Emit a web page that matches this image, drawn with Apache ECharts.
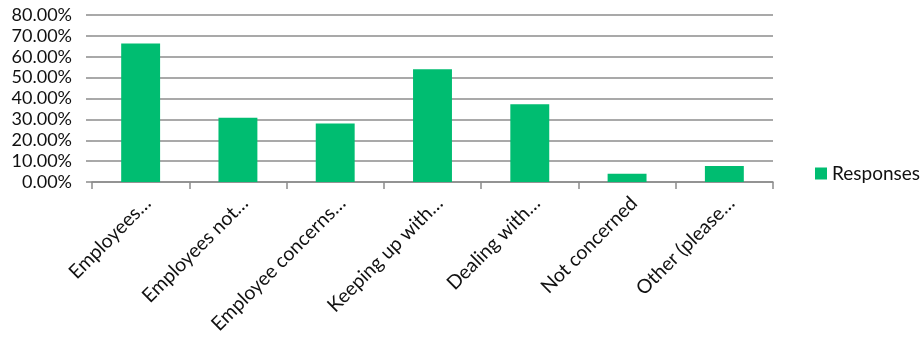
<!DOCTYPE html>
<html>
<head>
<meta charset="utf-8">
<script src="https://cdn.jsdelivr.net/npm/echarts@6/dist/echarts.min.js"></script>
<style>
  html, body { margin: 0; padding: 0; background: #fff; }
  #chart { width: 924px; height: 341px; }
</style>
</head>
<body>
<div id="chart"></div>
<script>
// Survey answer categories (shortened as shown on the axis)
const categories = [
  'Employees…',
  'Employees not…',
  'Employee concerns…',
  'Keeping up with…',
  'Dealing with…',
  'Not concerned',
  'Other (please…'
];
// Share of responses per answer, in percent
const responses = [66.3, 30.8, 28.0, 54.0, 37.2, 4.0, 7.7];
const seriesName = 'Responses';

const FONT = 'Lato';
const chart = echarts.init(document.getElementById('chart'));
chart.setOption({
  animation: false,
  textStyle: { fontFamily: FONT },
  grid: { left: 92, right: 151, top: 15, bottom: 159, containLabel: false },
  legend: {
    orient: 'vertical',
    left: 810,
    top: 159,
    itemWidth: 12,
    itemHeight: 12,
    itemGap: 6,
    icon: 'rect',
    textStyle: { fontFamily: FONT, fontSize: 19, color: '#111' },
    data: [seriesName]
  },
  xAxis: {
    type: 'category',
    data: categories,
    boundaryGap: true,
    axisLine: { lineStyle: { color: '#8c8c8c', width: 1.5 } },
    axisTick: { show: true, length: 7, alignWithLabel: false, lineStyle: { color: '#8c8c8c', width: 1.5 } },
    axisLabel: {
      rotate: 45,
      interval: 0,
      margin: 11,
      verticalAlign: 'top',
      fontFamily: FONT,
      fontSize: 19.5,
      color: '#111'
    }
  },
  yAxis: {
    type: 'value',
    min: 0,
    max: 80,
    interval: 10,
    axisLine: { show: false },
    axisTick: { show: true, length: 6, lineStyle: { color: '#8c8c8c', width: 1.5 } },
    splitLine: { show: true, lineStyle: { color: '#8c8c8c', width: 1.5 } },
    axisLabel: {
      margin: 20,
      fontFamily: FONT,
      fontSize: 18,
      color: '#111',
      formatter: v => v.toFixed(2) + '%'
    }
  },
  series: [{
    name: seriesName,
    type: 'bar',
    data: responses,
    barCategoryGap: '60%',
    itemStyle: { color: '#00bd71' }
  }]
});
</script>
</body>
</html>
